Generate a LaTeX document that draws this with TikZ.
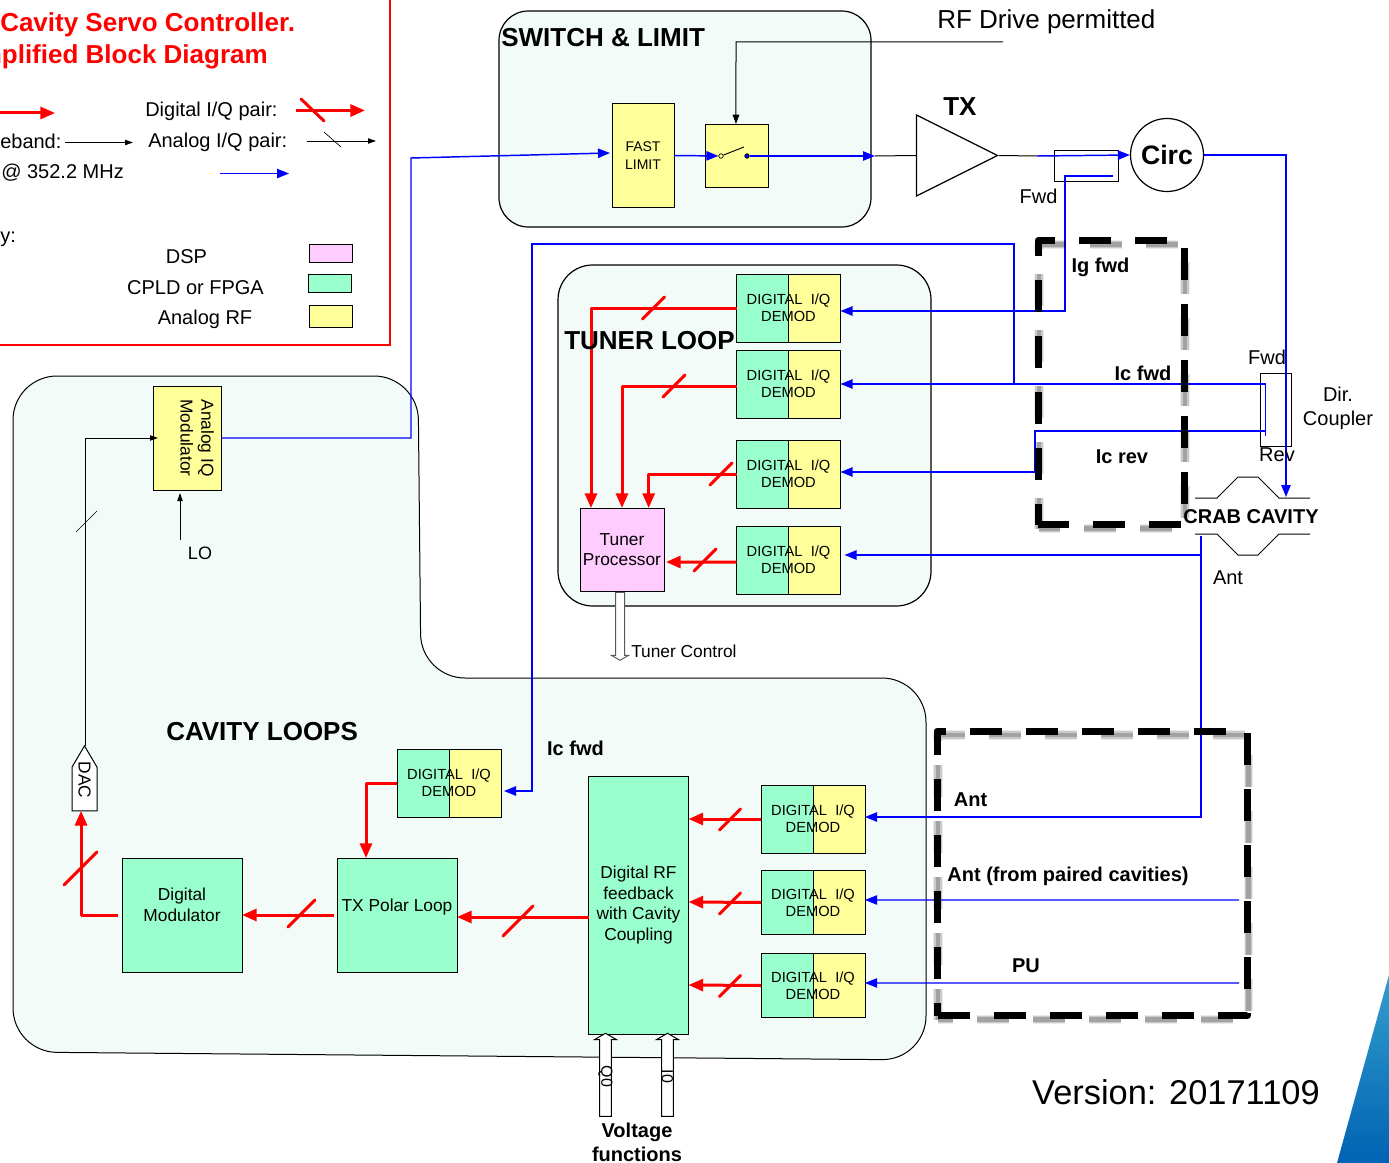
\documentclass[tikz,border=0pt]{standalone}
\usepackage{fontspec}
\setmainfont{Liberation Sans}
\usetikzlibrary{positioning}
\usetikzlibrary{arrows.meta}
\usetikzlibrary{shapes.geometric,shapes.arrows,shapes.symbols}
\definecolor{dspc}{HTML}{FFCCFF}
\definecolor{fpgac}{HTML}{99FFCC}
\definecolor{rfc}{HTML}{FFFF99}
\definecolor{panelc}{HTML}{F2FBF7}
\newcommand{\redbar}[2][11]{\draw[red, line width=2.25pt, line cap=round] (#2) ++(-#1,#1) -- ++(2*#1,-2*#1);}
\newcommand{\ctrlbox}[5]{%
    \foreach \wd/\op in {7pt/.08, 5.5pt/.14, 3.5pt/.2} {
        \draw[boxshade, line width=\wd, opacity=\op, shift={(1,4)}] (#1,#4) -- (#1,#2) -- (#3,#2) -- (#3,#4) -- cycle;
    }
    \draw[boxdash, dash phase=#5pt] (#1,#4) -- (#1,#2) -- (#3,#2) -- (#3,#4) -- cycle;}

\begin{document}
\begin{tikzpicture}[x=.75pt, y=-.75pt]
    % Styles:
    \tikzset{txt/.style={inner sep=0pt, font=\fontsize{15}{18}\selectfont}}
    \tikzset{btxt/.style={inner sep=0pt, font=\fontsize{15}{18}\selectfont\bfseries}}
    \tikzset{ttl/.style={inner sep=0pt, font=\fontsize{19.5}{24}\selectfont\bfseries}}
    \tikzset{blk/.style={draw=black, line width=.75pt, inner sep=0pt, outer sep=0pt, align=center, font=\fontsize{13}{15.4}\selectfont}}
    \tikzset{demod/.style={blk, fill=fpgac, minimum width=78pt, minimum height=51pt, font=\fontsize{11}{13}\selectfont,
        path picture={\fill[rfc] (path picture bounding box.north) rectangle (path picture bounding box.south east);
            \draw[line width=.75pt] (path picture bounding box.north) -- (path picture bounding box.south);}}}
    \tikzset{panel/.style={draw=black, fill=panelc, line width=.9pt}}
    \tikzset{digi/.style={draw=red, line width=2.25pt, line join=round, -{Triangle[length=11pt,width=9pt]}}}
    \tikzset{rfline/.style={draw=blue, line width=1.1pt, -{Triangle[length=9pt,width=7pt]}}}
    \tikzset{base/.style={draw=black, line width=.75pt, -{Triangle[length=6pt,width=4pt]}}}
    \tikzset{hollow/.style={single arrow, draw=black, fill=white, line width=.75pt, inner sep=4.1pt, single arrow tip angle=120, shape border rotate=90}}
    \tikzset{boxdash/.style={draw=black, line width=5.25pt, line join=round, dash pattern=on 24pt off 18pt}}
    \tikzset{boxshade/.style={draw=black, line join=round, dash pattern=on 24pt off 18pt, dash phase=.75pt}}
    \tikzset{cnt/.style={circle, draw=black, line width=.5pt, inner sep=0pt, minimum size=3.4pt}}

    \useasboundingbox (0,0) rectangle (1389,1163);

    % Panels:
    \draw[panel, rounded corners=22pt] (499,11) rectangle (871,227);
    \draw[panel, rounded corners=26pt] (558,265) rectangle (931,606);
    \draw[panel, line width=.75pt, rounded corners=33pt] (13,376) -- (418,376) -- (421,678) -- (926,678) -- (926,1060) -- (13,1052) -- cycle;
    \shade[top color=blue!30!cyan!60!gray, bottom color=blue!45!cyan!70!black] (1389,975) -- (1337,1163) -- (1389,1163) -- cycle;

    % Legend:
    \draw[red, line width=1.1pt] (0,345) -- (390,345) -- (390,0);
    \node[ttl, text=red, anchor=west] (title1) at (0,25) {Cavity Servo Controller.};
    \node[ttl, text=red, anchor=east] (title2) at (268,57) {mplified Block Diagram};
    \node[txt, anchor=west] (lgDig) at (145,111.5) {Digital I/Q pair:};
    \node[txt, anchor=west] (lgAna) at (148,142) {Analog I/Q pair:};
    \node[txt, anchor=west] (lgBase) at (0,141) {eband:};
    \node[txt, anchor=west] (lgRf) at (1,173) {@ 352.2 MHz};
    \node[txt, anchor=west] (lgTech) at (0,239) {y:};
    \node[txt] (lgDspT) at (186.5,257) {DSP};
    \node[txt] (lgFpgaT) at (195.5,288) {CPLD or FPGA};
    \node[txt] (lgRfT) at (205,319) {Analog RF};
    \node[blk, fill=dspc, minimum width=32.25pt, minimum height=13.5pt] (lgDsp) at (330.5,253) {};
    \node[blk, fill=fpgac, minimum width=32.25pt, minimum height=13.5pt] (lgFpga) at (330,283) {};
    \node[blk, fill=rfc, minimum width=32.25pt, minimum height=16.5pt] (lgRfb) at (330.5,316) {};
    \coordinate (lgA1) at (0,113);
    \coordinate (lgA2) at (55,113);
    \coordinate (lgB1) at (296,110.5);
    \coordinate (lgB2) at (365,110.5);
    \coordinate (lgC1) at (65,142.5);
    \coordinate (lgC2) at (133,142.5);
    \coordinate (lgD1) at (307,141);
    \coordinate (lgD2) at (376,141);
    \coordinate (lgE1) at (220,173.5);
    \coordinate (lgE2) at (289,173.5);
    \draw[digi] (lgA1) -- (lgA2);
    \draw[digi] (lgB1) -- (lgB2);
    \draw[base] (lgC1) -- (lgC2);
    \draw[base] (lgD1) -- (lgD2);
    \draw[rfline] (lgE1) -- (lgE2);
    \draw[red, line width=2.25pt, line cap=round] (301,99) -- (324,121);
    \draw[line width=.5pt] (324,132) -- (341,147);

    % Switch and TX:
    \node[blk, fill=rfc, minimum width=46.5pt, minimum height=77.25pt, font=\fontsize{10.5}{13}\selectfont] (fast) at (643,155.5) {FAST\\LIMIT};
    \node[blk, fill=rfc, minimum width=47.25pt, minimum height=47.25pt] (sw) at (736.5,155.5) {};
    \node[cnt, fill=rfc] (swA) at (721,156) {};
    \node[cnt, fill=blue] (swB) at (747,156) {};
    \node[isosceles triangle, isosceles triangle stretches, draw=black, line width=.9pt, inner sep=0pt, minimum width=60.75pt, minimum height=60.75pt] (tx) at (941.5,155.5) {};
    \node[circle, draw=black, fill=white, line width=.9pt, inner sep=0pt, minimum size=54.75pt, font=\fontsize{20}{24}\selectfont\bfseries] (circ) at (1167,155) {Circ};
    \node[blk, minimum width=48pt, minimum height=23.25pt] (cplF) at (1086,165.5) {};
    \node[blk, minimum width=23.25pt, minimum height=54.75pt] (cplD) at (1275.5,409.5) {};

    % Tuner loop nodes:
    \node[demod] (dA) at (788.5,308) {DIGITAL\ \ I/Q\\DEMOD};
    \node[demod] (dB) [below = 6pt of dA] {DIGITAL\ \ I/Q\\DEMOD};
    \node[demod] (dC) [below = 16.5pt of dB] {DIGITAL\ \ I/Q\\DEMOD};
    \node[demod] (dD) [below = 13.5pt of dC] {DIGITAL\ \ I/Q\\DEMOD};
    \node[blk, fill=dspc, minimum width=63pt, minimum height=62.25pt] (proc) at (622,549.5) {Tuner\\Processor};
    \node[hollow, draw=gray!70!black, shape border rotate=270, inner sep=3pt, minimum height=51pt, minimum width=12pt, single arrow head extend=3pt] (tctl) at (620,625) {};

    % Cavity loop nodes:
    \node[demod] (dG) at (449,783) {DIGITAL\ \ I/Q\\DEMOD};
    \node[demod] (dE) at (813,819) {DIGITAL\ \ I/Q\\DEMOD};
    \node[demod, minimum height=48pt] (dF) at (813,902.5) {DIGITAL\ \ I/Q\\DEMOD};
    \node[demod, minimum height=48pt] (dH) at (813,985.5) {DIGITAL\ \ I/Q\\DEMOD};
    \node[blk, fill=fpgac, minimum width=75pt, minimum height=193.5pt] (drf) at (638.5,905) {Digital RF\\feedback\\with Cavity\\Coupling};
    \node[blk, fill=fpgac, minimum width=90pt, minimum height=85.5pt] (tpol) at (397,915) {TX Polar Loop\\~};
    \node[blk, fill=fpgac, minimum width=90pt, minimum height=85.5pt] (dmod) at (182,915) {Digital\\Modulator\\~};
    \node[blk, fill=rfc, rotate=-90, minimum width=78pt, minimum height=51pt] (aiq) at (187,438) {Analog IQ\\Modulator\\~};
    \node[blk, fill=white, signal, signal to=west, signal pointer angle=61, rotate=-90, minimum width=48.75pt, minimum height=18.75pt] (dac) at (84.5,789) {};
    \node[hollow, minimum height=62.25pt, minimum width=15.75pt, single arrow head extend=3.75pt] (q0) at (605.5,1076.5) {};
    \node[hollow, minimum height=62.25pt, minimum width=15.75pt, single arrow head extend=3.75pt] (i0) at (667.5,1076.5) {};

    % Free ends:
    \coordinate (rfIn) at (1003,42);
    \coordinate (txIn) at (875,156);
    \coordinate (txOut) at (1037,156);
    \coordinate (cplTap) at (1113,176);
    \coordinate (dirFwd) at (1265.7,436);
    \coordinate (dirRev) at (1265,431);
    \coordinate (jFwd) at (1014,384);
    \coordinate (cavIn) at (1286,497);
    \coordinate (antOut) at (1201,536);
    \coordinate (jAnt) at (1201,555);
    \coordinate (antPair) at (1239,900);
    \coordinate (puIn) at (1239,983);
    \coordinate (loIn) at (180,540);

    % Blue lines:
    \draw[rfline] (aiq.north) -- (411,438) -- (411,158) -- ([yshift=1.9pt, xshift=-1.5pt]fast.west);
    \draw[rfline] (fast.east) -- (swA);
    \draw[rfline] (swB) -- (txIn);
    \draw[rfline] (txOut) -- (circ.west);
    \draw[rfline] (cplTap) -- (1065,176) -- (1065,311) -- ([yshift=-2.25pt]dA.east);
    \draw[rfline] (dirFwd) -- (1265.7,384) -- (dB.east);
    \draw[rfline] (jFwd) -- (1014,244) -- (532,244) -- (532,791) -- ([yshift=-6pt, xshift=2.25pt]dG.east);
    \draw[rfline] (dirRev) -- (1035,431) -- (1035,472) -- ([yshift=1.5pt]dC.east);
    \draw[rfline] (circ.east) -| (cavIn);
    \draw[rfline] (antOut) -- (1201,817) -- ([yshift=1.5pt]dE.east);
    \draw[rfline] (jAnt) -- ([yshift=3.75pt, xshift=3pt]dD.east);
    \draw[rfline, line width=.8pt] (antPair) -- ([yshift=1.9pt]dF.east);
    \draw[rfline, line width=.8pt] (puIn) -- ([yshift=1.9pt]dH.east);

    % Black lines:
    \draw[line width=.75pt] (txIn) -- (tx.lower side);
    \draw[line width=.75pt] (tx.apex) -- (txOut);
    \draw[base, -{Triangle[length=7pt,width=5pt]}] (rfIn) -- (736,42) -- ([xshift=-.4pt]sw.north);
    \draw[base] ([xshift=1pt]dac.west) |- ([xshift=3.75pt]aiq.south);
    \draw[base] (loIn) -- ([xshift=-5.25pt, yshift=-2.25pt]aiq.east);
    \draw[line width=.5pt] (76,532) -- (97,511);
    \draw[line width=.7pt] (swA) -- (744,147);

    % Red lines:
    \draw[digi] (dA.west) -| ([xshift=-23.25pt]proc.north);
    \draw[digi] ([yshift=-1.5pt]dB.west) -| (proc.north);
    \draw[digi] (dC.west) -| ([xshift=20pt]proc.north);
    \draw[digi] ([yshift=-1.5pt]dD.west) -- ([yshift=-9.4pt, xshift=1.5pt]proc.east);
    \draw[digi] (dG.west) -| ([xshift=-23.25pt]tpol.north);
    \draw[digi] ([yshift=-9pt]drf.west) -- ([yshift=-1.5pt]tpol.east);
    \draw[digi, shorten <=2.25pt] (tpol.west) -- (dmod.east);
    \draw[digi, shorten <=3pt] (dmod.west) -| ([xshift=-2.6pt]dac.east);
    \draw[digi] (dE.west) -- ([yshift=64.5pt]drf.east);
    \draw[digi] (dF.west) -- ([yshift=2.25pt]drf.east);
    \draw[digi] (dH.west) -- ([yshift=-60pt]drf.east);
    \redbar{653.5,308}
    \redbar{674,386}
    \redbar{721,474}
    \redbar{705,560}
    \redbar[15]{518,921}
    \redbar[13.5]{301.5,913.5}
    \redbar[16.5]{80.5,868.5}
    \redbar[10.5]{730,819.5}
    \redbar[10.5]{730,903.5}
    \redbar[10.5]{730,986}

    % Crab cavity:
    \draw[line width=.75pt] (1195,498) -- (1217,498) -- (1238,477) -- (1258,477) -- (1279,498) -- (1310,498);
    \draw[line width=.75pt] (1195,534) -- (1217,534) -- (1238,555) -- (1258,555) -- (1279,534) -- (1310,534);

    % Dashed boxes:
    \ctrlbox{1038}{240.5}{1184}{524.5}{8.25}
    \ctrlbox{937}{731}{1247.5}{1015.5}{14.25}

    % Labels:
    \node[ttl, anchor=west] (swLbl) at (501,38) {SWITCH \& LIMIT};
    \node[ttl, anchor=west] (tunerLbl) at (564,341) {TUNER LOOP};
    \node[ttl, anchor=west] (cavLbl) at (166,732) {CAVITY LOOPS};
    \node[ttl, anchor=west] (txLbl) at (943,107) {TX};
    \node[txt, font=\fontsize{19.5}{24}\selectfont, anchor=west] (rfLbl) at (937,22) {RF Drive permitted};
    \node[txt] (fwdA) at (1038.5,196) {Fwd};
    \node[txt] (fwdB) at (1267,357) {Fwd};
    \node[txt] (revB) at (1277,455) {Rev};
    \node[txt, align=center] (dirLbl) at (1338,408) {Dir.\\Coupler};
    \node[txt] (antLbl) at (1228,578) {Ant};
    \node[btxt] (igFwd) at (1100.5,267) {Ig fwd};
    \node[btxt] (icFwd) at (1143,373) {Ic fwd};
    \node[btxt] (icRev) at (1122,457) {Ic rev};
    \node[btxt] (icFwd2) at (575.5,748) {Ic fwd};
    \node[btxt] (antB) at (970.5,800) {Ant};
    \node[btxt] (antC) at (1068,876) {Ant (from paired cavities)};
    \node[btxt] (puLbl) at (1026,966) {PU};
    \node[btxt] (crabLbl) at (1251,517) {CRAB CAVITY};
    \node[txt, font=\fontsize{13}{16}\selectfont, anchor=west] (tctlLbl) at (631,651) {Tuner Control};
    \node[txt, font=\fontsize{13.5}{16}\selectfont] (loLbl) at (200,553) {LO};
    \node[txt, font=\fontsize{13}{16}\selectfont, rotate=-90] (dacLbl) at (84.5,780) {DAC};
    \node[txt, font=\fontsize{12}{14}\selectfont, rotate=-90] (q0Lbl) at (q0) {Q0};
    \node[txt, font=\fontsize{12}{14}\selectfont, rotate=-90] (i0Lbl) at (i0) {I0};
    \node[btxt, align=center] (voltLbl) at (637,1142) {Voltage\\functions};
    \node[txt, font=\fontsize{25.8}{30}\selectfont, anchor=east] (verLbl) at (1320,1092) {Version: 20171109};
\end{tikzpicture}
\end{document}
